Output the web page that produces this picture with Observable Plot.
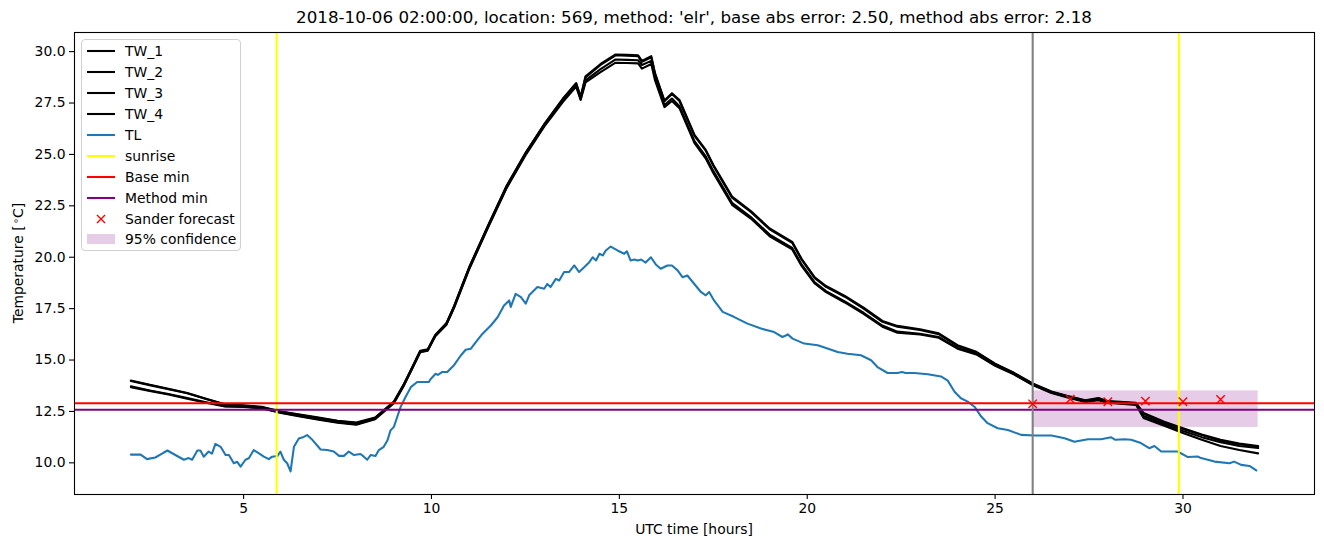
<!DOCTYPE html>
<html><head><meta charset="utf-8">
<script src="https://cdn.jsdelivr.net/npm/d3@7"></script>
<script src="https://cdn.jsdelivr.net/npm/@observablehq/plot@0.6"></script>
<style>
body{margin:0;background:#fff;font-family:"DejaVu Sans",sans-serif;color:#000;}
#fig{position:relative;width:1324px;height:547px;overflow:hidden;background:#fff;}
#title{position:absolute;left:74px;width:1240px;top:7px;text-align:center;font-size:16.7px;line-height:20px;white-space:nowrap;}
#chart{position:absolute;left:0;top:27px;}
#xlabel{position:absolute;left:74px;width:1240px;top:520px;text-align:center;font-size:13.9px;line-height:18px;}
#ylabel{position:absolute;left:-132px;top:254px;width:300px;height:18px;line-height:18px;text-align:center;font-size:13.9px;transform:rotate(-90deg);white-space:nowrap;}
#ylabel sup{font-size:70%;vertical-align:0.45em;line-height:0;}
#legend{position:absolute;left:81px;top:39px;width:160px;height:212px;border:1px solid #d0d0d0;border-radius:4px;background:rgba(255,255,255,0.8);box-sizing:border-box;padding-top:1px;}
.row{display:flex;align-items:center;height:20.9px;font-size:13.9px;white-space:nowrap;}
.row svg{margin-left:5px;margin-right:10px;flex:none;}
</style></head>
<body>
<div id="fig">
  <div id="chart"></div>
  <div id="title"></div>
  <div id="xlabel">UTC time [hours]</div>
  <div id="ylabel">Temperature [&#8202;<sup>∘</sup>C]</div>
  <div id="legend"></div>
</div>
<script>
// ---- data ----
const titleText = "2018-10-06 02:00:00, location: 569, method: 'elr', base abs error: 2.50, method abs error: 2.18";
const twNames = ["TW_1", "TW_2", "TW_3", "TW_4"];
const twHours = [2, 2.5, 3, 3.5, 4, 4.5, 5, 5.5, 6, 6.5, 7, 7.5, 8, 8.5, 9, 9.25, 9.5, 9.7, 9.9, 10.1, 10.4, 10.6, 11, 11.5, 12, 12.5, 13, 13.5, 13.85, 13.97, 14.1, 14.5, 14.9, 15.2, 15.5, 15.6, 15.85, 15.95, 16.2, 16.4, 16.6, 17, 17.3, 17.5, 18, 18.5, 19, 19.6, 19.85, 20.2, 20.5, 21, 21.5, 22, 22.4, 23, 23.5, 24, 24.5, 25, 25.5, 26, 26.5, 27, 27.4, 27.75, 28, 28.75, 28.95, 29.5, 30, 30.5, 31, 31.5, 32];
const tw1 = [14.0, 13.8, 13.6, 13.4, 13.12, 12.85, 12.8, 12.72, 12.5, 12.35, 12.2, 12.05, 11.96, 12.2, 12.98, 13.78, 14.7, 15.45, 15.52, 16.22, 16.8, 17.62, 19.5, 21.52, 23.48, 25.07, 26.47, 27.72, 28.47, 27.8, 28.8, 29.4, 29.86, 29.85, 29.82, 29.55, 29.78, 28.95, 27.62, 27.98, 27.65, 25.95, 25.22, 24.5, 22.95, 22.25, 21.4, 20.75, 19.92, 19.02, 18.6, 18.12, 17.55, 16.9, 16.66, 16.5, 16.3, 15.72, 15.4, 14.82, 14.38, 13.86, 13.47, 13.22, 13.04, 13.15, 13.0, 12.92, 12.42, 12.0, 11.68, 11.38, 11.12, 10.94, 10.82];
const tw2 = [13.98, 13.78, 13.58, 13.38, 13.1, 12.84, 12.78, 12.7, 12.48, 12.33, 12.18, 12.03, 11.94, 12.18, 12.96, 13.75, 14.68, 15.43, 15.5, 16.2, 16.78, 17.6, 19.48, 21.5, 23.45, 25.05, 26.45, 27.7, 28.45, 27.78, 28.75, 29.35, 29.82, 29.8, 29.78, 29.5, 29.72, 28.9, 27.58, 27.94, 27.6, 25.9, 25.18, 24.45, 22.9, 22.2, 21.36, 20.7, 19.88, 18.98, 18.56, 18.08, 17.5, 16.86, 16.62, 16.46, 16.26, 15.68, 15.37, 14.8, 14.36, 13.84, 13.45, 13.2, 13.02, 13.13, 12.98, 12.9, 12.38, 11.96, 11.65, 11.35, 11.08, 10.9, 10.78];
const tw3 = [13.72, 13.52, 13.35, 13.15, 12.95, 12.76, 12.74, 12.66, 12.44, 12.28, 12.12, 11.98, 11.88, 12.14, 12.93, 13.72, 14.65, 15.4, 15.47, 16.17, 16.75, 17.56, 19.44, 21.46, 23.4, 25.0, 26.4, 27.62, 28.35, 27.7, 28.6, 29.15, 29.62, 29.6, 29.58, 29.35, 29.55, 28.75, 27.4, 27.72, 27.35, 25.65, 24.9, 24.2, 22.65, 21.95, 21.1, 20.45, 19.65, 18.78, 18.35, 17.85, 17.3, 16.68, 16.38, 16.28, 16.12, 15.58, 15.3, 14.75, 14.32, 13.8, 13.42, 13.17, 12.99, 13.08, 12.94, 12.85, 12.28, 11.88, 11.55, 11.25, 11.0, 10.82, 10.72];
const tw4 = [13.68, 13.5, 13.32, 13.12, 12.92, 12.74, 12.72, 12.64, 12.42, 12.26, 12.1, 11.95, 11.85, 12.12, 12.9, 13.7, 14.62, 15.38, 15.45, 16.15, 16.72, 17.53, 19.4, 21.42, 23.36, 24.95, 26.35, 27.56, 28.3, 27.65, 28.5, 29.0, 29.46, 29.45, 29.43, 29.17, 29.4, 28.6, 27.3, 27.6, 27.25, 25.55, 24.8, 24.1, 22.55, 21.88, 21.02, 20.38, 19.58, 18.72, 18.3, 17.8, 17.25, 16.62, 16.33, 16.24, 16.08, 15.55, 15.27, 14.72, 14.3, 13.78, 13.4, 13.14, 12.96, 13.05, 12.92, 12.82, 12.18, 11.8, 11.45, 11.12, 10.82, 10.62, 10.46];
const tlHours = [2.0, 2.26, 2.43, 2.65, 2.83, 2.97, 3.41, 3.54, 3.63, 3.77, 3.85, 3.94, 4.07, 4.16, 4.25, 4.39, 4.52, 4.61, 4.74, 4.83, 4.92, 5.05, 5.14, 5.27, 5.41, 5.54, 5.67, 5.76, 5.9, 5.98, 6.07, 6.16, 6.25, 6.34, 6.47, 6.6, 6.69, 6.83, 7.05, 7.23, 7.4, 7.54, 7.67, 7.8, 7.94, 8.11, 8.2, 8.29, 8.38, 8.51, 8.6, 8.73, 8.83, 8.91, 9.0, 9.09, 9.18, 9.31, 9.45, 9.62, 9.93, 9.98, 10.11, 10.17, 10.29, 10.42, 10.6, 10.78, 10.91, 11.05, 11.18, 11.36, 11.58, 11.76, 11.93, 12.07, 12.11, 12.24, 12.38, 12.51, 12.6, 12.82, 13.0, 13.08, 13.17, 13.31, 13.4, 13.53, 13.66, 13.8, 13.93, 14.07, 14.2, 14.29, 14.38, 14.47, 14.56, 14.64, 14.77, 14.95, 15.13, 15.2, 15.3, 15.4, 15.49, 15.58, 15.7, 15.84, 15.97, 16.1, 16.28, 16.4, 16.55, 16.68, 16.81, 16.99, 17.17, 17.3, 17.39, 17.52, 17.75, 18.06, 18.41, 18.77, 19.12, 19.34, 19.43, 19.48, 19.61, 19.92, 20.28, 20.54, 20.81, 21.07, 21.43, 21.7, 21.87, 22.14, 22.4, 22.52, 22.62, 22.85, 23.21, 23.56, 23.74, 23.92, 24.09, 24.27, 24.45, 24.63, 24.8, 25.07, 25.34, 25.69, 26.05, 26.5, 26.85, 27.11, 27.47, 27.82, 28.09, 28.2, 28.44, 28.62, 28.88, 29.1, 29.24, 29.42, 29.86, 30.13, 30.39, 30.48, 30.84, 31.24, 31.36, 31.55, 31.77, 31.95];
const tlTemp = [10.4, 10.4, 10.18, 10.26, 10.45, 10.6, 10.15, 10.23, 10.15, 10.6, 10.6, 10.3, 10.55, 10.45, 10.92, 10.78, 10.38, 10.38, 9.98, 10.05, 9.82, 10.15, 10.22, 10.62, 10.46, 10.3, 10.18, 10.3, 10.33, 10.55, 10.15, 9.98, 9.58, 10.78, 11.18, 11.26, 11.35, 11.12, 10.65, 10.62, 10.55, 10.34, 10.34, 10.55, 10.38, 10.43, 10.3, 10.15, 10.38, 10.33, 10.62, 10.78, 11.1, 11.58, 11.75, 12.24, 12.72, 13.2, 13.68, 13.93, 13.93, 14.08, 14.33, 14.28, 14.42, 14.42, 14.75, 15.22, 15.5, 15.55, 15.87, 16.28, 16.68, 17.08, 17.65, 17.9, 17.58, 18.22, 18.06, 17.74, 18.15, 18.55, 18.47, 18.7, 18.55, 18.95, 18.87, 19.28, 19.28, 19.6, 19.28, 19.52, 19.76, 20.0, 19.84, 20.17, 20.09, 20.33, 20.52, 20.33, 20.17, 20.29, 19.84, 19.89, 19.84, 19.89, 19.74, 20.0, 19.65, 19.44, 19.6, 19.6, 19.36, 19.03, 19.11, 18.71, 18.31, 18.15, 18.31, 17.9, 17.34, 17.09, 16.77, 16.53, 16.36, 16.12, 16.19, 16.25, 16.04, 15.8, 15.72, 15.56, 15.39, 15.31, 15.23, 14.99, 14.66, 14.37, 14.37, 14.42, 14.37, 14.37, 14.31, 14.2, 14.0, 13.46, 13.14, 12.98, 12.73, 12.25, 11.93, 11.68, 11.6, 11.36, 11.33, 11.33, 11.2, 11.03, 11.15, 11.15, 11.24, 11.12, 11.15, 11.12, 10.96, 10.71, 10.82, 10.55, 10.55, 10.28, 10.31, 10.23, 10.06, 9.98, 10.06, 9.9, 9.85, 9.63];
const sunriseHours = [5.88, 29.89];
const forecastStartHour = 26;
const baseMin = 12.9;
const methodMin = 12.58;
const forecastHours = [26, 27, 28, 29, 30, 31];
const forecastTemp = [12.87, 13.1, 12.97, 13.0, 12.97, 13.08];
const confHours = [26, 32];
const confRange = [11.72, 13.5];
const xTicks = [5, 10, 15, 20, 25, 30];
const yTicks = [10, 12.5, 15, 17.5, 20, 22.5, 25, 27.5, 30];
const legendItems = [
  {label: "TW_1", kind: "line", color: "#000000"},
  {label: "TW_2", kind: "line", color: "#000000"},
  {label: "TW_3", kind: "line", color: "#000000"},
  {label: "TW_4", kind: "line", color: "#000000"},
  {label: "TL", kind: "line", color: "#1f77b4"},
  {label: "sunrise", kind: "line", color: "#ffff00"},
  {label: "Base min", kind: "line", color: "#ff0000"},
  {label: "Method min", kind: "line", color: "#800080"},
  {label: "Sander forecast", kind: "x", color: "#ff0000"},
  {label: "95% confidence", kind: "patch", color: "#800080"}
];

// ---- build tables ----
const twSeries = [tw1, tw2, tw3, tw4];
const tw = [];
twNames.forEach((n, i) => twSeries[i].forEach((v, j) => tw.push({series: n, hour: twHours[j], temp: v})));
const tl = tlHours.map((h, i) => ({hour: h, temp: tlTemp[i]}));
const forecast = forecastHours.map((h, i) => ({hour: h, temp: forecastTemp[i]}));
const conf = [{x1: confHours[0], x2: confHours[1], y1: confRange[0], y2: confRange[1]}];

const LW = 2.08;
const chart = Plot.plot({
  width: 1324, height: 520,
  marginLeft: 74, marginRight: 10, marginTop: 5, marginBottom: 53,
  x: {domain: [0.5, 33.5]},
  y: {domain: [8.46, 30.93]},
  style: {fontFamily: "DejaVu Sans", fontSize: "13.9px", color: "#000", background: "#fff"},
  marks: [
    Plot.rect(conf, {x1: "x1", x2: "x2", y1: "y1", y2: "y2", fill: "#800080", fillOpacity: 0.2}),
    Plot.line(tw, {x: "hour", y: "temp", z: "series", stroke: "#000", strokeWidth: LW, curve: "linear"}),
    Plot.line(tl, {x: "hour", y: "temp", stroke: "#1f77b4", strokeWidth: LW}),
    Plot.ruleX(sunriseHours, {stroke: "#ffff00", strokeWidth: LW}),
    Plot.ruleY([baseMin], {stroke: "#ff0000", strokeWidth: LW}),
    Plot.ruleY([methodMin], {stroke: "#800080", strokeWidth: LW}),
    Plot.ruleX([forecastStartHour], {stroke: "#808080", strokeWidth: LW}),
    Plot.dot(forecast, {x: "hour", y: "temp", symbol: "times", r: 3.9, stroke: "#ff0000", strokeWidth: 1.4}),
    Plot.axisX({ticks: xTicks, tickSize: 5, tickPadding: 4, label: null, fontSize: 13.9, strokeWidth: 1.1}),
    Plot.axisY({ticks: yTicks, tickFormat: d3.format(".1f"), tickSize: 5, tickPadding: 4, label: null, fontSize: 13.9, strokeWidth: 1.1}),
    Plot.frame({stroke: "#000", strokeWidth: 1.1})
  ]
});
document.getElementById("chart").appendChild(chart);
document.getElementById("title").textContent = titleText;

// ---- legend ----
const leg = document.getElementById("legend");
legendItems.forEach(it => {
  const row = document.createElement("div");
  row.className = "row";
  let sw;
  if (it.kind === "line") sw = `<line x1="0" y1="7" x2="28" y2="7" stroke="${it.color}" stroke-width="2.08"/>`;
  else if (it.kind === "x") sw = `<path d="M10,3 L18,11 M18,3 L10,11" stroke="${it.color}" stroke-width="1.4" fill="none"/>`;
  else sw = `<rect x="0" y="2" width="28" height="10" fill="${it.color}" fill-opacity="0.2"/>`;
  row.innerHTML = `<svg width="28" height="14">${sw}</svg><span>${it.label}</span>`;
  leg.appendChild(row);
});
</script>
</body></html>
